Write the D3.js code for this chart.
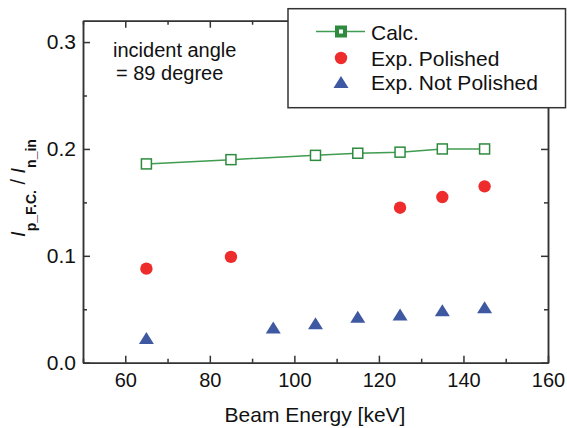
<!DOCTYPE html>
<html>
<head>
<meta charset="utf-8">
<script src="https://cdn.jsdelivr.net/npm/d3@7"></script>
<style>
  body { margin: 0; background: #fff; }
</style>
</head>
<body>
<div id="chart"></div>
<script>
// values
const energyCalc = [65, 85, 105, 115, 125, 135, 145];
const calcValues = [0.186, 0.190, 0.194, 0.196, 0.197, 0.200, 0.200];
const energyPolished = [65, 85, 125, 135, 145];
const polishedValues = [0.088, 0.099, 0.145, 0.155, 0.165];
const energyNotPolished = [65, 95, 105, 115, 125, 135, 145];
const notPolishedValues = [0.023, 0.033, 0.037, 0.043, 0.045, 0.049, 0.052];

const xTicks = [60, 80, 100, 120, 140, 160];
const xMinor = [50, 70, 90, 110, 130, 150];
const yTicks = [0.0, 0.1, 0.2, 0.3];
const yMinor = [0.05, 0.15, 0.25];
const legendLabels = ["Calc.", "Exp. Polished", "Exp. Not Polished"];

const width = 567;
const height = 428;
const font = "'Liberation Sans', Arial, sans-serif";
const green = "#2e8b3e";
const red = "#ee2c2c";
const blue = "#3f58a2";
const axisColor = "#333";

const svg = d3
  .select("#chart")
  .append("svg")
  .attr("width", width)
  .attr("height", height)
  .style("background-color", "#ffffff");

const x = d3.scaleLinear().domain([50, 160]).range([83, 548]);
const y = d3.scaleLinear().domain([0, 0.32]).range([362.7, 20.7]);

const styleAxis = (g) => {
  g.select(".domain").attr("stroke", axisColor).attr("stroke-width", 1.5);
  g.selectAll(".tick line").attr("stroke", axisColor).attr("stroke-width", 1.5);
  g.selectAll("text").attr("fill", "#111").style("font-family", font);
};

// major + minor ticks, all pointing inward
svg.append("g")
  .attr("transform", `translate(0,${y(0)})`)
  .call(d3.axisBottom(x).tickValues(xTicks).tickSize(-7).tickSizeOuter(0).tickPadding(10).tickFormat(d3.format("d")))
  .call(styleAxis)
  .selectAll("text").style("font-size", "20px");
svg.append("g")
  .attr("transform", `translate(0,${y(0)})`)
  .call(d3.axisBottom(x).tickValues(xMinor).tickSize(-4).tickSizeOuter(0).tickFormat(""))
  .call(styleAxis);

svg.append("g")
  .attr("transform", `translate(0,${y.range()[1]})`)
  .call(d3.axisTop(x).tickValues(xTicks).tickSize(-7).tickSizeOuter(0).tickFormat(""))
  .call(styleAxis);
svg.append("g")
  .attr("transform", `translate(0,${y.range()[1]})`)
  .call(d3.axisTop(x).tickValues(xMinor).tickSize(-4).tickSizeOuter(0).tickFormat(""))
  .call(styleAxis);

svg.append("g")
  .attr("transform", `translate(${x(50)},0)`)
  .call(d3.axisLeft(y).tickValues(yTicks).tickSize(-7).tickSizeOuter(0).tickPadding(7).tickFormat(d3.format(".1f")))
  .call(styleAxis)
  .selectAll("text").style("font-size", "21px");
svg.append("g")
  .attr("transform", `translate(${x(50)},0)`)
  .call(d3.axisLeft(y).tickValues(yMinor).tickSize(-4).tickSizeOuter(0).tickFormat(""))
  .call(styleAxis);

svg.append("g")
  .attr("transform", `translate(${x(160)},0)`)
  .call(d3.axisRight(y).tickValues(yTicks).tickSize(-7).tickSizeOuter(0).tickFormat(""))
  .call(styleAxis);
svg.append("g")
  .attr("transform", `translate(${x(160)},0)`)
  .call(d3.axisRight(y).tickValues(yMinor).tickSize(-4).tickSizeOuter(0).tickFormat(""))
  .call(styleAxis);

// axis titles
svg.append("text")
  .attr("x", 315)
  .attr("y", 422)
  .attr("text-anchor", "middle")
  .style("font-family", font)
  .style("font-size", "21px")
  .attr("fill", "#111")
  .text("Beam Energy [keV]");

const yTitle = svg.append("text")
  .attr("transform", "translate(25,188) rotate(-90)")
  .attr("text-anchor", "middle")
  .style("font-family", font)
  .style("font-size", "20px")
  .attr("fill", "#111");
yTitle.append("tspan").style("font-style", "italic").text("I");
yTitle.append("tspan").attr("dy", 11).style("font-size", "14px").style("font-weight", "bold").text("p_F.C.");
yTitle.append("tspan").attr("dy", -11).text(" / ");
yTitle.append("tspan").style("font-style", "italic").text("I");
yTitle.append("tspan").attr("dy", 11).style("font-size", "14px").style("font-weight", "bold").text("n_in");

// annotation
const note = svg.append("g")
  .style("font-family", font)
  .style("font-size", "20px")
  .attr("fill", "#111");
note.append("text").attr("x", 113).attr("y", 57).text("incident angle");
note.append("text").attr("x", 116).attr("y", 80).text("= 89 degree");

// calculated series
const calc = energyCalc.map((e, i) => ({ e, v: calcValues[i] }));
svg.append("path")
  .datum(calc)
  .attr("fill", "none")
  .attr("stroke", "#3f9c50")
  .attr("stroke-width", 1.5)
  .attr("d", d3.line().x((d) => x(d.e)).y((d) => y(d.v)));
svg.append("g")
  .selectAll("rect")
  .data(calc)
  .enter()
  .append("rect")
  .attr("x", (d) => x(d.e) - 5)
  .attr("y", (d) => y(d.v) - 5)
  .attr("width", 10)
  .attr("height", 10)
  .attr("fill", "#fff")
  .attr("stroke", green)
  .attr("stroke-width", 1.5);

// polished
svg.append("g")
  .selectAll("circle")
  .data(energyPolished.map((e, i) => ({ e, v: polishedValues[i] })))
  .enter()
  .append("circle")
  .attr("cx", (d) => x(d.e))
  .attr("cy", (d) => y(d.v))
  .attr("r", 6.2)
  .attr("fill", red);

// not polished
const tri = (cx, cy) => `M${cx},${cy - 6}L${cx + 7.5},${cy + 6}L${cx - 7.5},${cy + 6}Z`;
svg.append("g")
  .selectAll("path")
  .data(energyNotPolished.map((e, i) => ({ e, v: notPolishedValues[i] })))
  .enter()
  .append("path")
  .attr("d", (d) => tri(x(d.e), y(d.v)))
  .attr("fill", blue);

// legend
const legend = svg.append("g");
legend.append("rect")
  .attr("x", 288)
  .attr("y", 8.7)
  .attr("width", 277.5)
  .attr("height", 99)
  .attr("fill", "#fff")
  .attr("stroke", axisColor)
  .attr("stroke-width", 1.5);

const legendY = [31.5, 58, 82];
legend.append("line")
  .attr("x1", 316).attr("x2", 365)
  .attr("y1", legendY[0]).attr("y2", legendY[0])
  .attr("stroke", "#3f9c50")
  .attr("stroke-width", 1.5);
legend.append("rect")
  .attr("x", 341 - 4).attr("y", legendY[0] - 4)
  .attr("width", 8).attr("height", 8)
  .attr("fill", "#fff")
  .attr("stroke", green)
  .attr("stroke-width", 4);
legend.append("circle")
  .attr("cx", 341).attr("cy", legendY[1])
  .attr("r", 6.2)
  .attr("fill", red);
legend.append("path")
  .attr("d", tri(341, legendY[2]))
  .attr("fill", blue);

legend.selectAll("text")
  .data(legendLabels)
  .enter()
  .append("text")
  .attr("x", 371)
  .attr("y", (d, i) => legendY[i] + 8)
  .style("font-family", font)
  .style("font-size", "21px")
  .attr("fill", "#111")
  .text((d) => d);
</script>
</body>
</html>
